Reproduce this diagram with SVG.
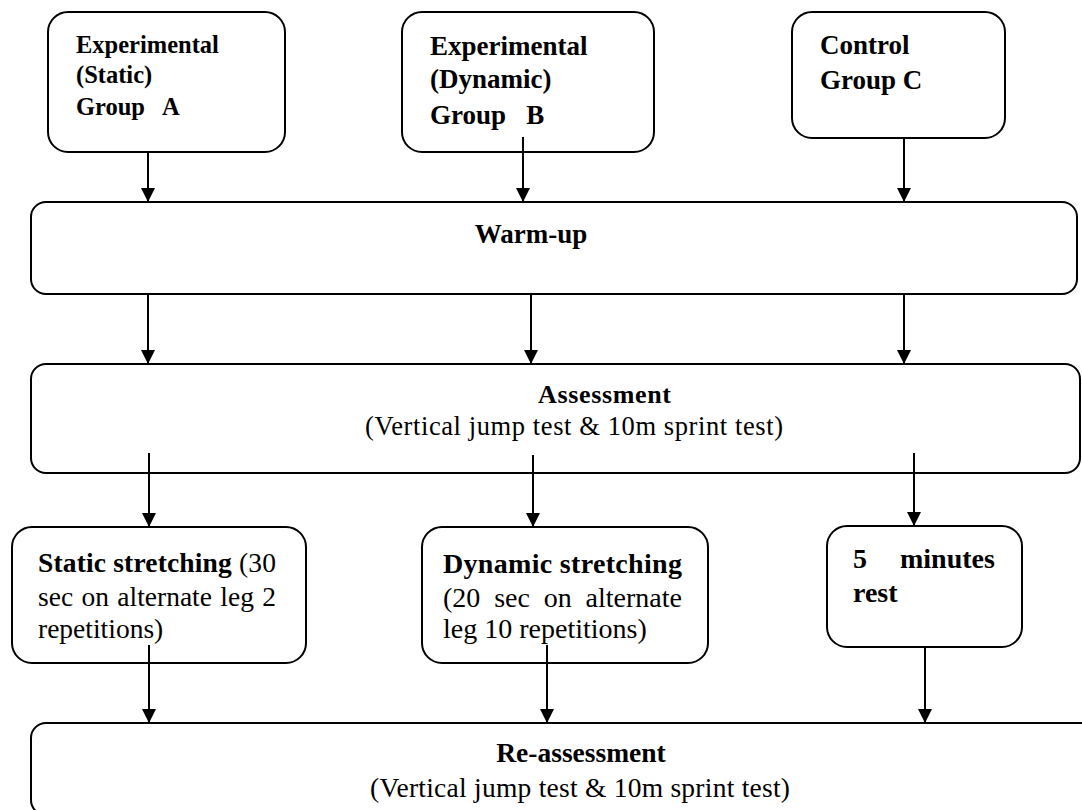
<svg xmlns="http://www.w3.org/2000/svg" width="1082" height="810" viewBox="0 0 1082 810">
<style>
.box{fill:#fff;stroke:#000;stroke-width:2}
.t{font-family:"Liberation Serif","Times New Roman",serif;fill:#000}
.b{font-weight:bold}
.c{stroke:#000;stroke-width:2;fill:none;marker-end:url(#ah)}
</style>
<defs>
<marker id="ah" markerUnits="userSpaceOnUse" markerWidth="14" markerHeight="16" refX="14" refY="7" orient="auto">
<path d="M0,0 L14,7 L0,14 z" fill="#000"/>
</marker>
</defs>
<rect width="1082" height="810" fill="#fff"/>

<g id="groupA">
<rect class="box" x="48" y="12" width="237" height="140" rx="20"/>
<text class="t b" font-size="24.5" x="76" y="53">Experimental</text>
<text class="t b" font-size="24.5" x="76" y="83">(Static)</text>
<text class="t b" font-size="24.5" x="76" y="115" xml:space="preserve">Group   A</text>
</g>

<g id="groupB">
<rect class="box" x="402" y="12" width="252" height="140" rx="20"/>
<text class="t b" font-size="27" x="430" y="55">Experimental</text>
<text class="t b" font-size="27" x="430" y="88">(Dynamic)</text>
<text class="t b" font-size="27" x="430" y="124" xml:space="preserve">Group   B</text>
</g>

<g id="groupC">
<rect class="box" x="792" y="12" width="213" height="126" rx="20"/>
<text class="t b" font-size="27" x="820" y="54">Control</text>
<text class="t b" font-size="27" x="820" y="89">Group C</text>
</g>

<g id="warmup">
<rect class="box" x="31" y="202" width="1046" height="92" rx="15"/>
<text class="t b" font-size="27" x="531" y="243" text-anchor="middle">Warm-up</text>
</g>

<g id="assessment">
<rect class="box" x="31" y="364" width="1049" height="109" rx="15"/>
<text class="t b" font-size="26" x="538" y="403" textLength="133" lengthAdjust="spacing">Assessment</text>
<text class="t" font-size="26.5" x="365" y="435" textLength="418" lengthAdjust="spacing">(Vertical jump test &amp; 10m sprint test)</text>
</g>

<g id="static">
<rect class="box" x="12" y="527" width="294" height="136" rx="20"/>
<text class="t" font-size="27.5" x="38" y="572" textLength="238" lengthAdjust="spacing"><tspan class="b">Static stretching</tspan> (30</text>
<text class="t" font-size="27.5" x="38" y="606" textLength="238" lengthAdjust="spacing" word-spacing="1.5">sec on alternate leg 2</text>
<text class="t" font-size="27.5" x="38" y="638">repetitions)</text>
</g>

<g id="dynamic">
<rect class="box" x="422" y="527" width="286" height="136" rx="20"/>
<text class="t b" font-size="28" x="443" y="573" textLength="239" lengthAdjust="spacing">Dynamic stretching</text>
<text class="t" font-size="28" x="443" y="607" textLength="239" lengthAdjust="spacing" word-spacing="6.8">(20 sec on alternate</text>
<text class="t" font-size="28" x="443" y="638">leg 10 repetitions)</text>
</g>

<g id="rest">
<rect class="box" x="827" y="526" width="195" height="121" rx="20"/>
<text class="t b" font-size="28" x="853" y="568">5 <tspan x="900">minutes</tspan></text>
<text class="t b" font-size="28" x="853" y="602">rest</text>
</g>

<g id="reassessment">
<rect class="box" x="31" y="723" width="1070" height="92" rx="15"/>
<text class="t b" font-size="27.5" x="581" y="762" text-anchor="middle">Re-assessment</text>
<text class="t" font-size="27.5" x="370" y="797" textLength="420" lengthAdjust="spacing">(Vertical jump test &amp; 10m sprint test)</text>
</g>

<g id="connectors">
<line class="c" x1="148" y1="152" x2="148" y2="202"/>
<line class="c" x1="523" y1="137" x2="523" y2="202"/>
<line class="c" x1="904" y1="138" x2="904" y2="202"/>
<line class="c" x1="148" y1="294" x2="148" y2="364"/>
<line class="c" x1="531" y1="294" x2="531" y2="364"/>
<line class="c" x1="904" y1="294" x2="904" y2="364"/>
<line class="c" x1="149" y1="453" x2="149" y2="527"/>
<line class="c" x1="533" y1="455" x2="533" y2="527"/>
<line class="c" x1="914" y1="453" x2="914" y2="526"/>
<line class="c" x1="149" y1="645" x2="149" y2="723"/>
<line class="c" x1="547" y1="645" x2="547" y2="723"/>
<line class="c" x1="925" y1="647" x2="925" y2="723"/>
</g>
</svg>
